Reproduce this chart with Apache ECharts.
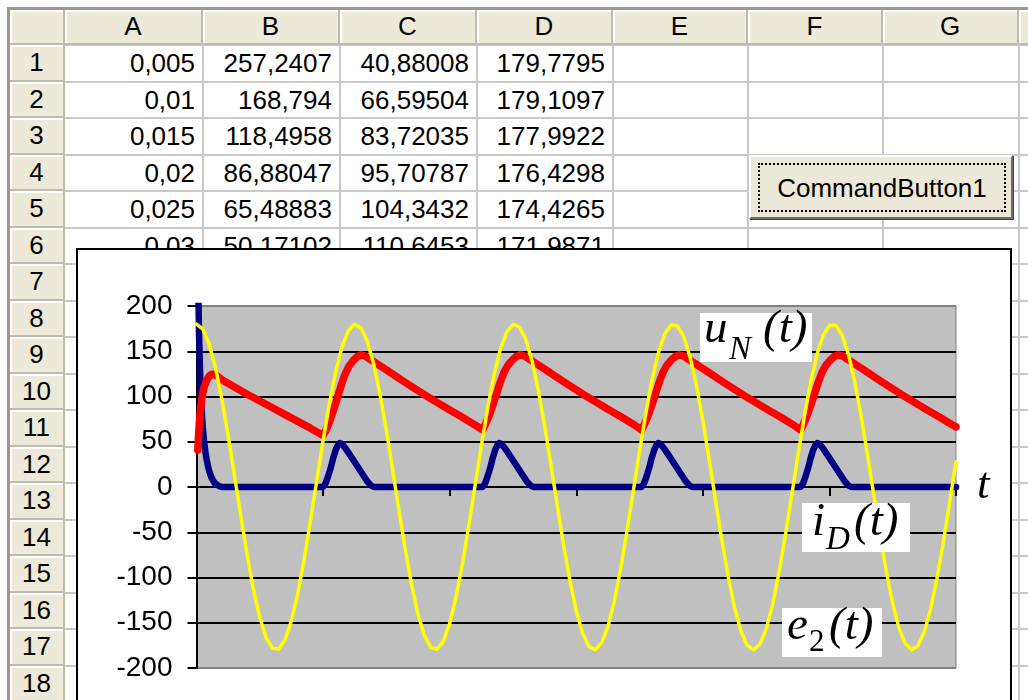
<!DOCTYPE html>
<html>
<head>
<meta charset="utf-8">
<title>Excel - uN, iD, e2</title>
<script src="https://cdn.jsdelivr.net/npm/echarts@6/dist/echarts.min.js"></script>
<style>
body { margin:0; width:1028px; height:700px; overflow:hidden; background:#fff; position:relative;
       font-family:"Liberation Sans", Arial, sans-serif; }
#sheet div { position:absolute; box-sizing:border-box; }
.hdr { background:#ECE9D8; color:#000; text-align:center; font-size:26px; }
.cell { text-align:right; padding-right:8px; font-size:26px; color:#000; }
#btn { position:absolute; left:749px; top:155px; width:264px; height:64px; box-sizing:border-box;
       background:#ECE9D8; border:2px solid; border-color:#fff #716F64 #716F64 #fff;
       box-shadow: 1px 1px 0 #404040; }
#btn span { position:absolute; left:7px; top:6px; right:5px; bottom:5px; border:2px dotted #000;
       font-size:26px; line-height:46px; text-align:center; color:#000; }
#frame { position:absolute; left:76px; top:248px; width:932px; height:460px; border:2px solid #000; background:#fff; }
#main { width:932px; height:460px; }
</style>
</head>
<body>
<div id="sheet"></div>
<div id="btn"><span>CommandButton1</span></div>
<div id="frame"><div id="main"></div></div>

<script type="text/javascript">
// spreadsheet content
var colLetters = ['A', 'B', 'C', 'D', 'E', 'F', 'G'];
var colA = ['0,005', '0,01', '0,015', '0,02', '0,025', '0,03'];
var colB = ['257,2407', '168,794', '118,4958', '86,88047', '65,48883', '50,17102'];
var colC = ['40,88008', '66,59504', '83,72035', '95,70787', '104,3432', '110,6453'];
var colD = ['179,7795', '179,1097', '177,9922', '176,4298', '174,4265', '171,9871'];

// chart data: [t, value]
// i_D(t) - dark blue
var iD = [
    [0.005,257.2],[0.01,168.8],[0.015,118.5],[0.02,86.9],[0.025,65.5],[0.03,50.2],[0.035,39],[0.04,30.5],
    [0.045,23.5],[0.05,18],[0.055,13.5],[0.06,10],[0.07,5],[0.08,2.5],[0.09,1],[0.1,0],
    [0.5,0],[0.51,4],[0.52,12],[0.53,21],[0.54,32],[0.55,41],[0.558,46],[0.566,48.5],[0.575,47.5],
    [0.585,44],[0.6,38],[0.62,29.5],[0.64,21],[0.66,12.5],[0.675,6],[0.69,1.5],[0.7,0],
    [1.13,0],[1.14,4],[1.15,12],[1.16,21],[1.17,32],[1.18,41],[1.188,46],[1.196,48.5],[1.205,47.5],
    [1.215,44],[1.23,38],[1.25,29.5],[1.27,21],[1.29,12.5],[1.305,6],[1.32,1.5],[1.33,0],
    [1.758,0],[1.768,4],[1.778,12],[1.788,21],[1.798,32],[1.808,41],[1.816,46],[1.824,48.5],[1.833,47.5],
    [1.843,44],[1.858,38],[1.878,29.5],[1.898,21],[1.918,12.5],[1.933,6],[1.948,1.5],[1.958,0],
    [2.386,0],[2.396,4],[2.406,12],[2.416,21],[2.426,32],[2.436,41],[2.444,46],[2.452,48.5],[2.461,47.5],
    [2.471,44],[2.486,38],[2.506,29.5],[2.526,21],[2.546,12.5],[2.561,6],[2.576,1.5],[2.586,0],[3,0]
];
// u_N(t) - red
var uN = [
    [0.005,40.9],[0.01,66.6],[0.015,83.7],[0.02,95.7],[0.025,104.3],[0.03,110.6],[0.04,118],[0.05,122.5],
    [0.06,124.5],[0.07,124.5],[0.085,122],[0.1,118.5],[0.15,110.5],[0.2,102.5],[0.25,95],[0.3,87.5],
    [0.35,80],[0.4,72.5],[0.45,65],[0.5,57],
    [0.51,62],[0.52,68.5],[0.53,75.5],[0.54,84],[0.555,97.5],[0.57,111],[0.585,123.5],[0.6,132.5],
    [0.62,140],[0.635,144],[0.65,146],[0.665,145],[0.68,142],
    [0.7,138.5],[0.75,129.5],[0.8,120],[0.85,111],[0.9,102],[0.95,93.5],[1.0,85],[1.05,77],[1.1,68.5],[1.13,63],
    [1.14,68.5],[1.15,75],[1.16,82],[1.17,90],[1.185,103],[1.2,116],[1.215,127],[1.23,134.5],[1.25,141],
    [1.265,144.5],[1.28,146],[1.295,145],[1.31,142],
    [1.33,138.5],[1.38,129.5],[1.43,120],[1.48,111],[1.53,102],[1.58,93.5],[1.63,85],[1.68,77],[1.73,68.5],[1.758,63],
    [1.768,68.5],[1.778,75],[1.788,82],[1.798,90],[1.813,103],[1.828,116],[1.843,127],[1.858,134.5],[1.878,141],
    [1.893,144.5],[1.908,146],[1.923,145],[1.938,142],
    [1.958,138.5],[2.008,129.5],[2.058,120],[2.108,111],[2.158,102],[2.208,93.5],[2.258,85],[2.308,77],[2.358,68.5],[2.386,63],
    [2.396,68.5],[2.406,75],[2.416,82],[2.426,90],[2.441,103],[2.456,116],[2.471,127],[2.486,134.5],[2.506,141],
    [2.521,144.5],[2.536,146],[2.551,145],[2.566,142],
    [2.586,138.5],[2.636,129.5],[2.686,120],[2.736,111],[2.786,102],[2.836,93.5],[2.886,85],[2.936,77],[2.986,68.5],[3,66.5]
];
// e_2(t) - yellow
var e2 = [
    [0,180],[0.025,174.4],[0.05,158],[0.075,131.7],[0.1,97.3],[0.125,56.8],[0.15,12.7],[0.175,-32.1],[0.2,-74.9],
    [0.225,-113.1],[0.25,-144.2],[0.275,-166.4],[0.3,-178.2],[0.325,-178.9],[0.35,-168.6],[0.375,-147.7],[0.4,-117.7],
    [0.425,-80.3],[0.45,-37.9],[0.475,6.8],[0.5,51.1],[0.525,92.2],[0.55,127.6],[0.575,155.1],[0.6,172.8],
    [0.625,179.9],[0.65,175.8],[0.675,160.7],[0.7,135.7],[0.725,102.4],[0.75,62.4],[0.775,18.7],[0.8,-26.2],
    [0.825,-69.4],[0.85,-108.4],[0.875,-140.7],[0.9,-164],[0.925,-177.2],[0.95,-179.5],[0.975,-170.6],[1,-151],
    [1.025,-121.8],[1.05,-85.6],[1.075,-43.8],[1.1,0.8],[1.125,45.2],[1.15,87],[1.175,123.3],[1.2,151.9],
    [1.225,171.1],[1.25,179.6],[1.275,177],[1.3,163.4],[1.325,139.6],[1.35,107],[1.375,67.9],[1.4,24.6],
    [1.425,-20.3],[1.45,-63.9],[1.475,-103.5],[1.5,-136.7],[1.525,-161.5],[1.55,-176.1],[1.575,-179.9],[1.6,-172.4],
    [1.625,-154.4],[1.65,-126.9],[1.675,-90.9],[1.7,-49.5],[1.725,-5.2],[1.75,39.4],[1.775,81.6],[1.8,118.9],
    [1.825,148.8],[1.85,169.3],[1.875,179.1],[1.9,178],[1.925,165.8],[1.95,143.2],[1.975,111.9],[2,73.5],
    [2.025,30.5],[2.05,-14.3],[2.075,-58.3],[2.1,-98.6],[2.125,-132.8],[2.15,-158.7],[2.175,-174.8],[2.2,-180],
    [2.225,-174],[2.25,-157.2],[2.275,-130.8],[2.3,-95.9],[2.325,-55.3],[2.35,-11.1],[2.375,33.6],[2.4,76.4],
    [2.425,114.3],[2.45,145.5],[2.475,167.5],[2.5,178.4],[2.525,178.8],[2.55,168],[2.575,146.8],[2.6,116.4],
    [2.625,78.9],[2.65,36.4],[2.675,-8.4],[2.7,-52.6],[2.725,-93.5],[2.75,-128.7],[2.775,-155.9],[2.8,-173.3],
    [2.825,-179.9],[2.85,-175.4],[2.875,-160],[2.9,-134.7],[2.925,-100.9],[2.95,-61.1],[2.975,-17.1],[3,27.8]
];
// 2,5 sits under the i_D label in the original, 0 and 3 are not shown
var xTickLabels = ['', '0,5', '1', '1,5', '2', '', ''];

// ---- draw the worksheet behind the chart
var sheet = document.getElementById('sheet');
function box(x, y, w, h, cls, css, text) {
    var d = document.createElement('div');
    if (cls) d.className = cls;
    d.style.cssText = 'left:' + x + 'px;top:' + y + 'px;width:' + w + 'px;height:' + h + 'px;' + (css || '');
    if (text !== undefined) d.textContent = text;
    sheet.appendChild(d);
    return d;
}
var colEdges = [65, 203, 340, 477, 613, 748, 883, 1019, 1160];
var headTop = 10, headBottom = 45, rowH = 36.5, nRows = 18;

// grid lines
for (var k = 0; k <= nRows; k++) {
    box(65, headBottom + k * rowH - 1, 1000, 2, '', 'background:#C8C8C8;');
}
for (var c = 1; c < colEdges.length; c++) {
    box(colEdges[c] - 1, headBottom, 2, 700, '', 'background:#C8C8C8;');
}
// cell values
var cols = [colA, colB, colC, colD];
for (var c = 0; c < cols.length; c++) {
    for (var r = 0; r < cols[c].length; r++) {
        box(colEdges[c], headBottom + r * rowH, colEdges[c + 1] - colEdges[c], rowH, 'cell',
            'line-height:' + rowH + 'px;', cols[c][r]);
    }
}
// column headers
var hdrCss = 'border-right:2px solid #BDBAAE;border-bottom:2px solid #BDBAAE;box-shadow:inset 2px 2px 0 #fff;';
box(10, headTop, 55, headBottom - headTop, 'hdr', hdrCss);
for (var c = 0; c < colEdges.length - 1; c++) {
    box(colEdges[c], headTop, colEdges[c + 1] - colEdges[c], headBottom - headTop, 'hdr',
        'line-height:33px;' + hdrCss, colLetters[c] || '');
}
// row headers
for (var r = 0; r < nRows; r++) {
    box(10, headBottom + r * rowH, 55, rowH, 'hdr',
        'line-height:' + (rowH - 2) + 'px;' + hdrCss, String(r + 1));
}
// window frame
box(7, 7, 1030, 3, '', 'background:#9A978C;');
box(7, 7, 3, 700, '', 'background:#9A978C;');

// ---- chart
var myChart = echarts.init(document.getElementById('main'), null, { renderer: 'canvas' });

var mathFont = '"Liberation Serif", "Times New Roman", serif';
// white box with a label made of main letter, subscript and "(t)"
function mathLabel(bx, by, bw, bh, parts) {
    var children = [{
        type: 'rect', z: 100, shape: { x: bx, y: by, width: bw, height: bh },
        style: { fill: '#fff' }
    }];
    parts.forEach(function (p) {
        children.push({
            type: 'text', z: 101, x: p[1], y: p[2],
            style: {
                text: p[0], fill: '#000', font: (p[4] || 'italic') + ' ' + p[3] + 'px ' + mathFont,
                verticalAlign: 'middle', align: 'left'
            }
        });
    });
    return { type: 'group', z: 100, children: children };
}

var gridColors = ['#808080', '#000', '#000', '#000', '#000', '#000', '#000', '#000', '#808080'];

var option = {
    animation: false,
    backgroundColor: '#fff',
    grid: {
        left: 118.5, top: 56, width: 759.5, height: 362,
        show: true, backgroundColor: '#C0C0C0', borderColor: '#808080', borderWidth: 1,
        containLabel: false, outerBoundsMode: 'none'
    },
    xAxis: {
        type: 'value', min: 0, max: 3, interval: 0.5,
        axisLine: { show: true, onZero: true, lineStyle: { color: '#000', width: 2 } },
        axisTick: { show: true, length: 9, lineStyle: { color: '#000', width: 2 } },
        axisLabel: {
            color: '#000', fontSize: 27, fontFamily: '"Liberation Sans", Arial, sans-serif', margin: 31,
            formatter: function (v) { return xTickLabels[Math.round(v / 0.5)]; }
        },
        splitLine: { show: false }
    },
    yAxis: {
        type: 'value', min: -200, max: 200, interval: 50,
        axisLine: { show: true, onZero: false, lineStyle: { color: '#000', width: 2 } },
        axisTick: { show: true, length: 9, lineStyle: { color: '#000', width: 2 } },
        axisLabel: { color: '#000', fontSize: 28, fontFamily: '"Liberation Sans", Arial, sans-serif', margin: 24 },
        splitLine: { show: true, lineStyle: { color: gridColors, width: 2 } }
    },
    series: [
        {
            name: 'iD', type: 'line', data: iD, showSymbol: false, clip: true,
            lineStyle: { color: '#000080', width: 6.5, cap: 'round', join: 'round' },
            itemStyle: { color: '#000080' }, z: 3
        },
        {
            name: 'uN', type: 'line', data: uN, showSymbol: false, clip: true,
            lineStyle: { color: '#FF0000', width: 7.5, cap: 'round', join: 'round' },
            itemStyle: { color: '#FF0000' }, z: 4
        },
        {
            name: 'e2', type: 'line', data: e2, showSymbol: false, clip: true,
            lineStyle: { color: '#FFFF00', width: 3.5, cap: 'round', join: 'round' },
            itemStyle: { color: '#FFFF00' }, z: 5
        }
    ],
    graphic: [
        mathLabel(622, 63, 112, 49, [['u', 626, 80, 47], ['N', 651, 100, 33], ['(t)', 685, 80, 47]]),
        mathLabel(724, 253, 108, 49, [['i', 734, 273, 47], ['D', 748, 290, 33], ['(t)', 776, 273, 47]]),
        mathLabel(704, 358, 100, 49, [['e', 709, 377, 47], ['2', 731, 393, 31, 'normal'], ['(t)', 751, 377, 47]]),
        mathLabel(895, 225, 0, 0, [['t', 899, 236, 45]])
    ]
};
myChart.setOption(option);
</script>
</body>
</html>
